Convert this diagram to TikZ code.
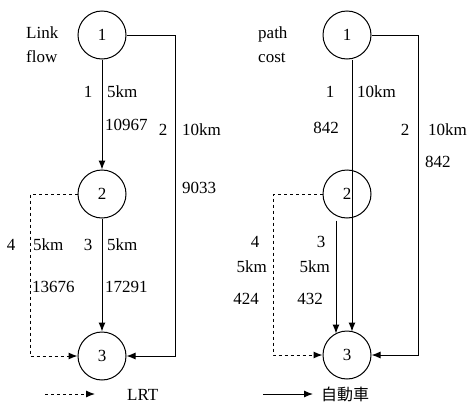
\documentclass[tikz,border=0pt]{standalone}
\usepackage{fontspec}
\setmainfont{Liberation Serif}
\newfontfamily\cjk{Noto Sans CJK JP}
\usetikzlibrary{arrows.meta, positioning}

\begin{document}
\begin{tikzpicture}[x=1pt,y=-1pt,node distance=1.5cm]

\tikzstyle{station}=[circle,draw,line width=1pt,minimum size=48pt,inner sep=0pt,font=\fontsize{17}{24}\selectfont]
\tikzstyle{tag}=[inner sep=0pt,font=\fontsize{17}{24}\selectfont]
\tikzstyle{line}=[draw, -{Latex[length=9pt,width=7pt]}, line width=1pt]

\useasboundingbox (0,0) rectangle (469,407);

% link flow network
\node (lone) [station] at (102,35) {1};
\node (ltwo) [station] at (102,194) {2};
\node (lthree) [station] at (102,356) {3};

\coordinate (lbendA) at (175,35);
\coordinate (lbendB) at (30,194);

\draw[line] (lone) -- (ltwo);
\draw[line] (ltwo) -- (lthree);
\draw[line] (lone.east) -- (lbendA) |- (lthree.east);
\draw[line,dashed] (ltwo.west) -- (lbendB) |- (lthree.west);

\node (lhead) [tag,anchor=west,align=left] at (26,45) {Link\\flow};
\node (lnumA) [tag] at (88,92) {1};
\node (ldistA) [tag,anchor=west] at (107,92) {5km};
\node (lflowA) [tag,anchor=west] at (105,125) {10967};
\node (lnumB) [tag] at (163,130) {2};
\node (ldistB) [tag,anchor=west] at (182,130) {10km};
\node (lflowB) [tag,anchor=west] at (182,188) {9033};
\node (lnumD) [tag] at (11,245) {4};
\node (ldistD) [tag,anchor=west] at (33,245) {5km};
\node (lnumC) [tag] at (88,245) {3};
\node (ldistC) [tag,anchor=west] at (107,245) {5km};
\node (lflowD) [tag,anchor=west] at (32,287) {13676};
\node (lflowC) [tag,anchor=west] at (105,287) {17291};

% path cost network
\node (rone) [station] at (347,35) {1};
\node (rtwo) [station] at (347,194) {2};
\node (rthree) [station] at (347,355) {3};

\coordinate (rbendA) at (418,35);
\coordinate (rbendB) at (273,194);

\draw[line] ([xshift=5pt]rone.south) -- ([xshift=5pt,yshift=-1pt]rthree.north);
\draw[line] ([xshift=-11pt,yshift=-2pt]rtwo.south) -- ([xshift=-11pt,yshift=-3pt]rthree.north);
\draw[line] (rone.east) -- (rbendA) |- (rthree.east);
\draw[line,dashed] (rtwo.west) -- (rbendB) |- (rthree.west);

\node (rhead) [tag,anchor=west,align=left] at (258,45) {path\\cost};
\node (rnumA) [tag] at (330,92) {1};
\node (rdistA) [tag,anchor=west] at (357,92) {10km};
\node (rcostA) [tag] at (326,128) {842};
\node (rnumB) [tag] at (405,130) {2};
\node (rdistB) [tag,anchor=west] at (428,130) {10km};
\node (rcostB) [tag,anchor=west] at (425,162) {842};
\node (rnumD) [tag] at (255,242) {4};
\node (rdistD) [tag,anchor=east] at (267,267) {5km};
\node (rcostD) [tag,anchor=east] at (259,299) {424};
\node (rnumC) [tag] at (321,242) {3};
\node (rdistC) [tag,anchor=east] at (330,267) {5km};
\node (rcostC) [tag,anchor=east] at (323,299) {432};

% legend
\coordinate (lrtA) at (45,394);
\coordinate (lrtB) at (95,394);
\draw[line,dashed] (lrtA) -- (lrtB);
\node (lrt) [tag,anchor=west] at (127,395) {LRT};

\coordinate (carA) at (263,394);
\coordinate (carB) at (313,394);
\draw[line] (carA) -- (carB);
\node (car) [tag,anchor=west,font=\cjk\fontsize{16}{20}\selectfont] at (321,394) {自動車};

\end{tikzpicture}
\end{document}
